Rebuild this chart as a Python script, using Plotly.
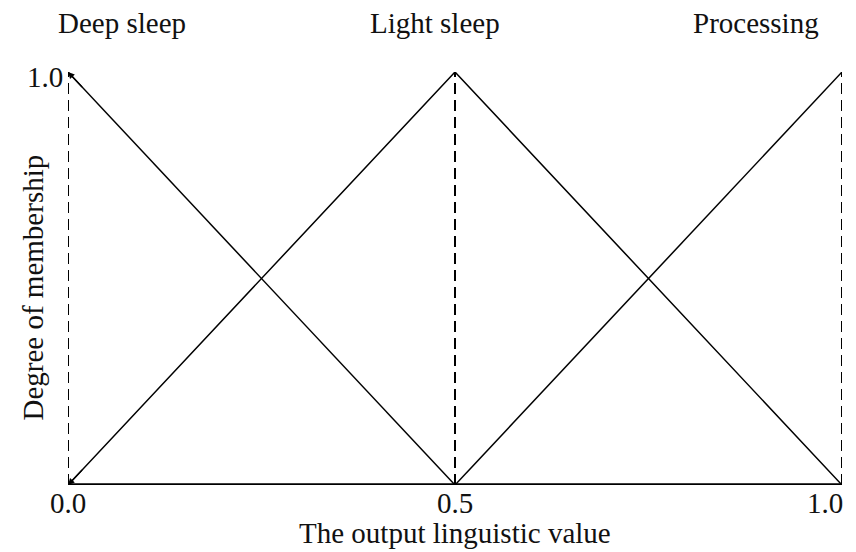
import plotly.graph_objects as go

# membership functions (output linguistic value -> degree)
x_vals = [0.0, 0.5, 1.0]
deep_sleep = [1.0, 0.0, 0.0]
light_sleep = [0.0, 1.0, 0.0]
processing = [0.0, 0.0, 1.0]

labels = ['Deep sleep', 'Light sleep', 'Processing']
label_x = [0.07, 0.474, 0.889]
x_ticks = [0.0, 0.5, 1.0]
tick_text = ['0.0', '0.5', '1.0']

font = dict(family='Liberation Serif, Times New Roman, serif', size=29, color='#111')

fig = go.Figure()

# dashed verticals
for xv in x_ticks:
    fig.add_trace(go.Scatter(x=[xv, xv], y=[0, 1], mode='lines',
                             line=dict(color='black', width=2, dash='11px,6px'),
                             showlegend=False, hoverinfo='skip'))

fig.add_trace(go.Scatter(x=x_vals[:2], y=deep_sleep[:2], mode='lines',
                         line=dict(color='black', width=1.5), showlegend=False))
fig.add_trace(go.Scatter(x=x_vals, y=light_sleep, mode='lines',
                         line=dict(color='black', width=1.5), showlegend=False))
fig.add_trace(go.Scatter(x=x_vals[1:], y=processing[1:], mode='lines',
                         line=dict(color='black', width=1.5), showlegend=False))

# x axis base line
fig.add_trace(go.Scatter(x=[0, 1], y=[0, 0], mode='lines',
                         line=dict(color='black', width=3.5), showlegend=False))

# category labels on top
for xv, lab in zip(label_x, labels):
    fig.add_annotation(x=xv, y=1.0, xref='x', yref='paper', yshift=49, text=lab,
                       showarrow=False, font=font, xanchor='center', yanchor='middle')

# tick labels
fig.add_annotation(x=0.0, y=0, xref='x', yref='y', text=tick_text[0], showarrow=False,
                   font=font, xanchor='center', yanchor='middle', yshift=-18)
fig.add_annotation(x=0.5, y=0, xref='x', yref='y', text=tick_text[1], showarrow=False,
                   font=font, xanchor='center', yanchor='middle', yshift=-18)
fig.add_annotation(x=1.0, y=0, xref='x', yref='y', text=tick_text[2], showarrow=False,
                   font=font, xanchor='right', yanchor='middle', yshift=-18, xshift=3)
fig.add_annotation(x=0.0, y=1.0, xref='x', yref='y', text='1.0', showarrow=False,
                   font=font, xanchor='right', yanchor='middle', yshift=-5, xshift=-3)

# small arrowheads at the line ends
fig.add_annotation(x=0.0, y=1.0, ax=0.02, ay=1 - 0.02 * 2,
                   xref='x', yref='y', axref='x', ayref='y', text='', showarrow=True,
                   arrowhead=2, arrowsize=1, arrowwidth=1.3, arrowcolor='black')
fig.add_annotation(x=0.0, y=0.0, ax=0.02, ay=0.04,
                   xref='x', yref='y', axref='x', ayref='y', text='', showarrow=True,
                   arrowhead=2, arrowsize=1, arrowwidth=1.3, arrowcolor='black')

# axis titles
fig.add_annotation(x=0.5, y=0, xref='x', yref='paper', yshift=-48, text='The output linguistic value',
                   showarrow=False, font=font, xanchor='center', yanchor='middle')
fig.add_annotation(x=0, y=0.5, xref='paper', yref='paper', xshift=-36, yshift=-9,
                   text='Degree of membership', showarrow=False, font=font,
                   textangle=-90, xanchor='center', yanchor='middle')

fig.update_xaxes(range=[0, 1], showgrid=False, zeroline=False, showticklabels=False,
                 showline=False, ticks='')
fig.update_yaxes(range=[0, 1], showgrid=False, zeroline=False, showticklabels=False,
                 showline=False, ticks='')

# page body adds 8px margin, so the figure is a bit smaller than the window
fig.update_layout(width=848, height=544, plot_bgcolor='white', paper_bgcolor='white',
                  margin=dict(l=60, r=14, t=64, b=67), showlegend=False)

fig.write_html("out.html")
